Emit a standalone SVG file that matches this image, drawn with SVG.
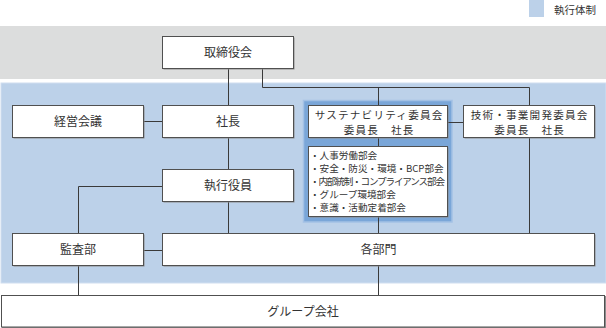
<svg xmlns="http://www.w3.org/2000/svg" width="606" height="328" viewBox="0 0 606 328">
<style>
text{font-family:"Noto Sans CJK JP","Noto Sans CJK SC",sans-serif;fill:#333;}
.t{font-size:12px;text-anchor:middle;}
.t2{font-size:10.6px;text-anchor:middle;letter-spacing:1.2px;}
.s{font-size:9.6px;}
.box{fill:#fff;stroke:#505050;stroke-width:1;}
.sh{fill:#8c8c8c;}
.ln{stroke:#3a3a3a;stroke-width:1;fill:none;}
</style>
<rect x="0" y="0" width="606" height="328" fill="#fff"/>
<g id="legend">
<rect x="529" y="0" width="15" height="17" fill="#bcd1e9"/>
<text x="554" y="14" style="font-size:10.5px">執行体制</text>
</g>
<rect id="board-band" x="0" y="26" width="606" height="53" fill="#dcdddd"/>
<rect id="exec-band" x="1" y="83" width="605" height="200" fill="#bcd1e9" stroke="#d0def0" stroke-width="1"/>
<rect id="sust-frame" x="303.5" y="100.5" width="148.5" height="121.5" fill="#7aa6d8" stroke="#a3c1e5" stroke-width="1.5"/>
<g id="connectors">
<path class="ln" d="M228.5 69V233"/>
<path class="ln" d="M262.5 69V87.5H529.5V233"/>
<path class="ln" d="M378.5 87.5V233"/>
<path class="ln" d="M144 121.5H162"/>
<path class="ln" d="M448 122.5H463"/>
<path class="ln" d="M162 186.5H78.5V233"/>
<path class="ln" d="M144 250.5H162"/>
<path class="ln" d="M78.5 266V295"/>
<path class="ln" d="M378.5 266V295"/>
</g>
<g id="board">
<rect class="sh" x="163.5" y="37.5" width="131" height="32"/>
<rect class="box" x="162.5" y="36.5" width="131" height="32"/>
<text class="t" x="228" y="57">取締役会</text>
</g>
<g id="management-meeting">
<rect class="sh" x="13.5" y="106.5" width="131" height="32"/>
<rect class="box" x="12.5" y="105.5" width="131" height="32"/>
<text class="t" x="78" y="126">経営会議</text>
</g>
<g id="president">
<rect class="sh" x="163.5" y="106.5" width="131" height="32"/>
<rect class="box" x="162.5" y="105.5" width="131" height="32"/>
<text class="t" x="228" y="126">社長</text>
</g>
<g id="sustainability">
<rect class="sh" x="309.5" y="106.5" width="139" height="32"/>
<rect class="box" x="308.5" y="105.5" width="139" height="32"/>
<text class="t2"><tspan x="379.1" y="119">サステナビリティ委員会</tspan><tspan x="379.1" y="133.5">委員長　社長</tspan></text>
</g>
<g id="subcommittees">
<rect class="sh" x="309.5" y="147.5" width="139" height="70"/>
<rect class="box" x="308.5" y="146.5" width="139" height="70"/>
<text class="s"><tspan x="310" y="159">・人事労働部会</tspan><tspan x="310" y="172">・安全・防災・環境・BCP部会</tspan><tspan x="310" y="185" textLength="135">・内部統制・コンプライアンス部会</tspan><tspan x="310" y="198">・グループ環境部会</tspan><tspan x="310" y="211">・意識・活動定着部会</tspan></text>
</g>
<g id="tech-committee">
<rect class="sh" x="464.5" y="106.5" width="131" height="32"/>
<rect class="box" x="463.5" y="105.5" width="131" height="32"/>
<text class="t2"><tspan x="529.6" y="119">技術・事業開発委員会</tspan><tspan x="529.6" y="133.5">委員長　社長</tspan></text>
</g>
<g id="officers">
<rect class="sh" x="163.5" y="170.5" width="131" height="32"/>
<rect class="box" x="162.5" y="169.5" width="131" height="32"/>
<text class="t" x="228" y="190">執行役員</text>
</g>
<g id="audit">
<rect class="sh" x="13.5" y="234.5" width="131" height="32"/>
<rect class="box" x="12.5" y="233.5" width="131" height="32"/>
<text class="t" x="78" y="254">監査部</text>
</g>
<g id="divisions">
<rect class="sh" x="163.5" y="234.5" width="432" height="32"/>
<rect class="box" x="162.5" y="233.5" width="432" height="32"/>
<text class="t" x="378.5" y="254">各部門</text>
</g>
<g id="group-companies">
<rect class="sh" x="2" y="296" width="604" height="32"/>
<rect class="box" x="1.5" y="295.5" width="603" height="31.5"/>
<text class="t" x="303" y="316">グループ会社</text>
</g>
</svg>
